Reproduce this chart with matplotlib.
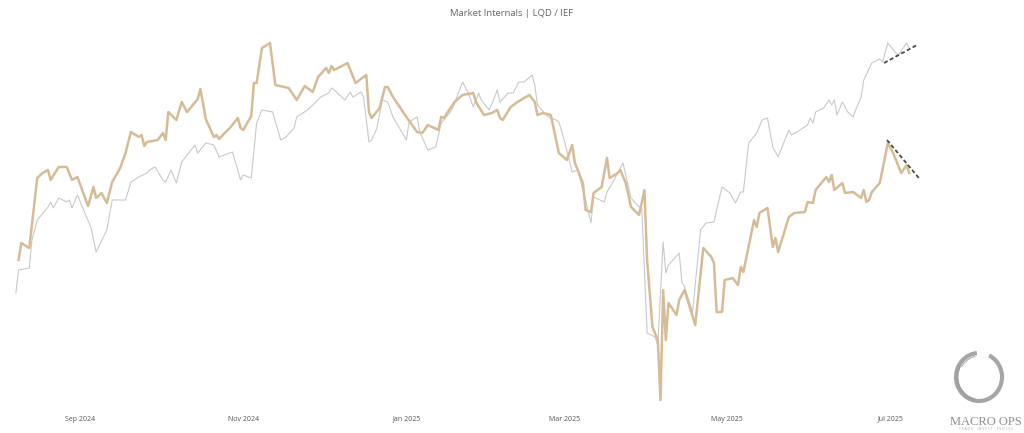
import numpy as np
import pandas as pd
import matplotlib
matplotlib.use("Agg")
import matplotlib.pyplot as plt
import matplotlib.dates as mdates
from matplotlib.patches import Arc

plt.rcParams['font.family'] = ['Open Sans', 'DejaVu Sans']

# ------------------------------------------------------------------
# data: day offsets from 2024-09-01, values in arbitrary chart units
# ------------------------------------------------------------------
BASE_DATE = pd.Timestamp('2024-09-01')

lqd_days = [-23, -22, -19, -16, -14, -12, -11, -8, -5, -3, -1, 3, 5, 6, 8, 10, 12, 15, 17, 19,
            22, 23, 24, 25, 29, 31, 32, 33, 36, 38, 40, 44, 45, 47, 50, 51, 52, 53, 56, 59,
            60, 61, 64, 65, 66, 68, 71, 73, 78, 81, 84, 87, 89, 92, 93, 94, 95, 100, 103, 107,
            108, 109, 112, 114, 115, 117, 122, 126, 128, 130, 134, 135, 136, 140, 143, 147, 148, 151, 154, 156,
            157, 158, 161, 163, 166, 168, 170, 171, 173, 176, 178, 179, 182, 184, 185, 188, 189, 191, 192, 195,
            197, 198, 201, 202, 204, 206, 209, 211, 212, 214, 216, 217, 218, 219, 220, 223, 224, 226, 230, 233,
            236, 237, 238, 240, 241, 244, 246, 247, 248, 252, 253, 254, 257, 259, 260, 261, 265, 267, 271, 272,
            274, 275, 279, 280, 281, 282, 285, 286, 289, 292, 293, 294, 295, 296, 299, 302, 304, 307, 309, 310]
lqd_vals = [150, 167, 162, 232, 237, 240, 230, 243, 243, 230, 233, 204, 223, 212, 217, 207, 228, 242, 257, 278,
            273, 275, 264, 268, 270, 277, 270, 298, 290, 308, 298, 311, 321, 291, 273, 275, 271, 274, 282, 292,
            282, 280, 294, 327, 327, 362, 367, 325, 322, 310, 324, 318, 333, 342, 337, 344, 340, 347, 327, 335,
            298, 292, 302, 323, 323, 313, 293, 278, 277, 285, 280, 293, 292, 308, 315, 317, 308, 295, 297, 300,
            292, 290, 303, 307, 312, 315, 308, 295, 297, 295, 270, 257, 250, 265, 247, 227, 200, 198, 217, 223,
            252, 232, 237, 240, 227, 203, 195, 220, 150, 83, 70, 10, 120, 70, 107, 95, 110, 120, 85, 162,
            153, 147, 98, 98, 130, 132, 125, 143, 138, 190, 183, 197, 202, 163, 172, 158, 193, 197, 198, 208,
            207, 220, 233, 228, 235, 220, 227, 217, 218, 212, 220, 208, 210, 218, 227, 267, 257, 237, 245, 237]

ief_days = [-24, -23, -19, -18, -16, -12, -11, -10, -8, -5, -4, -3, -1, 4, 6, 10, 12, 17, 19, 22,
            25, 26, 28, 31, 32, 34, 36, 38, 40, 43, 44, 47, 50, 52, 57, 60, 61, 64, 66, 68,
            72, 75, 77, 80, 81, 85, 87, 90, 93, 94, 95, 99, 101, 102, 105, 106, 108, 109, 111, 113,
            115, 117, 122, 123, 126, 127, 130, 133, 135, 136, 139, 143, 145, 147, 149, 150, 153, 155, 156, 157,
            160, 162, 164, 166, 169, 170, 171, 175, 178, 179, 181, 184, 186, 189, 191, 192, 196, 197, 199, 203,
            206, 209, 210, 212, 215, 216, 218, 219, 220, 224, 225, 226, 229, 232, 234, 237, 238, 240, 243, 245,
            247, 248, 250, 253, 255, 257, 259, 261, 265, 266, 268, 272, 273, 274, 275, 278, 280, 281, 282, 283,
            285, 287, 289, 290, 292, 293, 296, 299, 300, 302, 305, 306, 309, 310]
ief_vals = [117, 140, 142, 170, 190, 203, 208, 202, 212, 208, 210, 202, 215, 183, 158, 180, 210, 210, 228, 233,
            237, 240, 243, 230, 228, 240, 227, 248, 255, 265, 257, 267, 265, 253, 258, 230, 235, 232, 287, 300,
            298, 270, 273, 282, 293, 300, 305, 313, 317, 322, 320, 310, 318, 313, 318, 313, 268, 270, 282, 310,
            308, 293, 270, 288, 293, 278, 260, 263, 287, 290, 300, 328, 318, 303, 317, 310, 300, 313, 320, 308,
            317, 317, 328, 328, 335, 325, 305, 293, 290, 288, 270, 238, 240, 210, 187, 213, 208, 218, 227, 247,
            212, 203, 202, 77, 73, 65, 168, 137, 145, 157, 128, 123, 98, 180, 187, 188, 200, 223, 217, 207,
            218, 218, 267, 277, 290, 292, 263, 253, 280, 275, 278, 285, 292, 287, 298, 302, 310, 305, 310, 295,
            308, 298, 293, 300, 313, 330, 347, 351, 348, 367, 357, 355, 367, 362]

# hand-drawn trend lines (start/end day, start/end value)
ief_trend_days = [300.6, 312.9]
ief_trend_vals = [347, 365]
lqd_trend_days = [301.7, 313.6]
lqd_trend_vals = [270, 232]

TITLE = 'Market Internals | LQD / IEF'

def to_dates(days):
    return BASE_DATE + pd.to_timedelta(np.array(days, dtype=float), unit='D')

# ------------------------------------------------------------------
# figure
# ------------------------------------------------------------------
fig = plt.figure(figsize=(10.24, 4.33), dpi=100)
fig.patch.set_facecolor('white')
ax = fig.add_axes([10 / 1024, 23 / 433, 915 / 1024, 380 / 433])

ax.plot(to_dates(ief_days), ief_vals, color='#C9C9C9', linewidth=0.8, zorder=2)
ax.plot(to_dates(lqd_days), lqd_vals, color='#D6BC96', linewidth=1.8, zorder=3)

ax.plot(to_dates(ief_trend_days), ief_trend_vals, color='#4A4A4A', linewidth=1.3,
        linestyle=(0, (2.2, 1.4)), zorder=4)
ax.plot(to_dates(lqd_trend_days), lqd_trend_vals, color='#4A4A4A', linewidth=1.3,
        linestyle=(0, (2.2, 1.4)), zorder=4)

ax.set_xlim(BASE_DATE + pd.Timedelta(days=-26.2), BASE_DATE + pd.Timedelta(days=315.9))
ax.set_ylim(0, 380)

ax.xaxis.set_major_locator(mdates.MonthLocator(bymonth=[1, 3, 5, 7, 9, 11]))
ax.xaxis.set_major_formatter(mdates.DateFormatter('%b %Y'))
ax.tick_params(axis='x', length=0, pad=4, labelsize=5, labelcolor='#555555')
ax.set_yticks([])
for s in ax.spines.values():
    s.set_visible(False)

fig.text(0.5, 1 - 13 / 433, TITLE, ha='center', va='center', fontsize=6.8, color='#666666')

# ------------------------------------------------------------------
# logo (bottom right), 1 unit = 1 pixel
# ------------------------------------------------------------------
lax = fig.add_axes([934 / 1024, 0, 90 / 1024, 90 / 433])
lax.set_xlim(0, 90)
lax.set_ylim(0, 90)
lax.axis('off')
ring = (45, 56)
lax.add_patch(Arc(ring, 46, 48, theta1=95, theta2=425, color='#A6A6A6', linewidth=3.0))
lax.add_patch(Arc(ring, 44, 46, theta1=150, theta2=260, color='#A0A0A0', linewidth=2.0))
lax.add_patch(Arc(ring, 40, 42, theta1=100, theta2=150, color='#B8B8B8', linewidth=1.0))
lax.text(52, 11, 'MACRO OPS', ha='center', va='center', fontsize=9, color='#8E8E8E',
         family=['Liberation Serif', 'DejaVu Serif'])
lax.text(52, 4.5, 'T R A D E  ·  I N V E S T  ·  E V O L V E', ha='center', va='center',
         fontsize=2.3, color='#A8A8A8')

fig.savefig('out.png', dpi=100, facecolor='white')
